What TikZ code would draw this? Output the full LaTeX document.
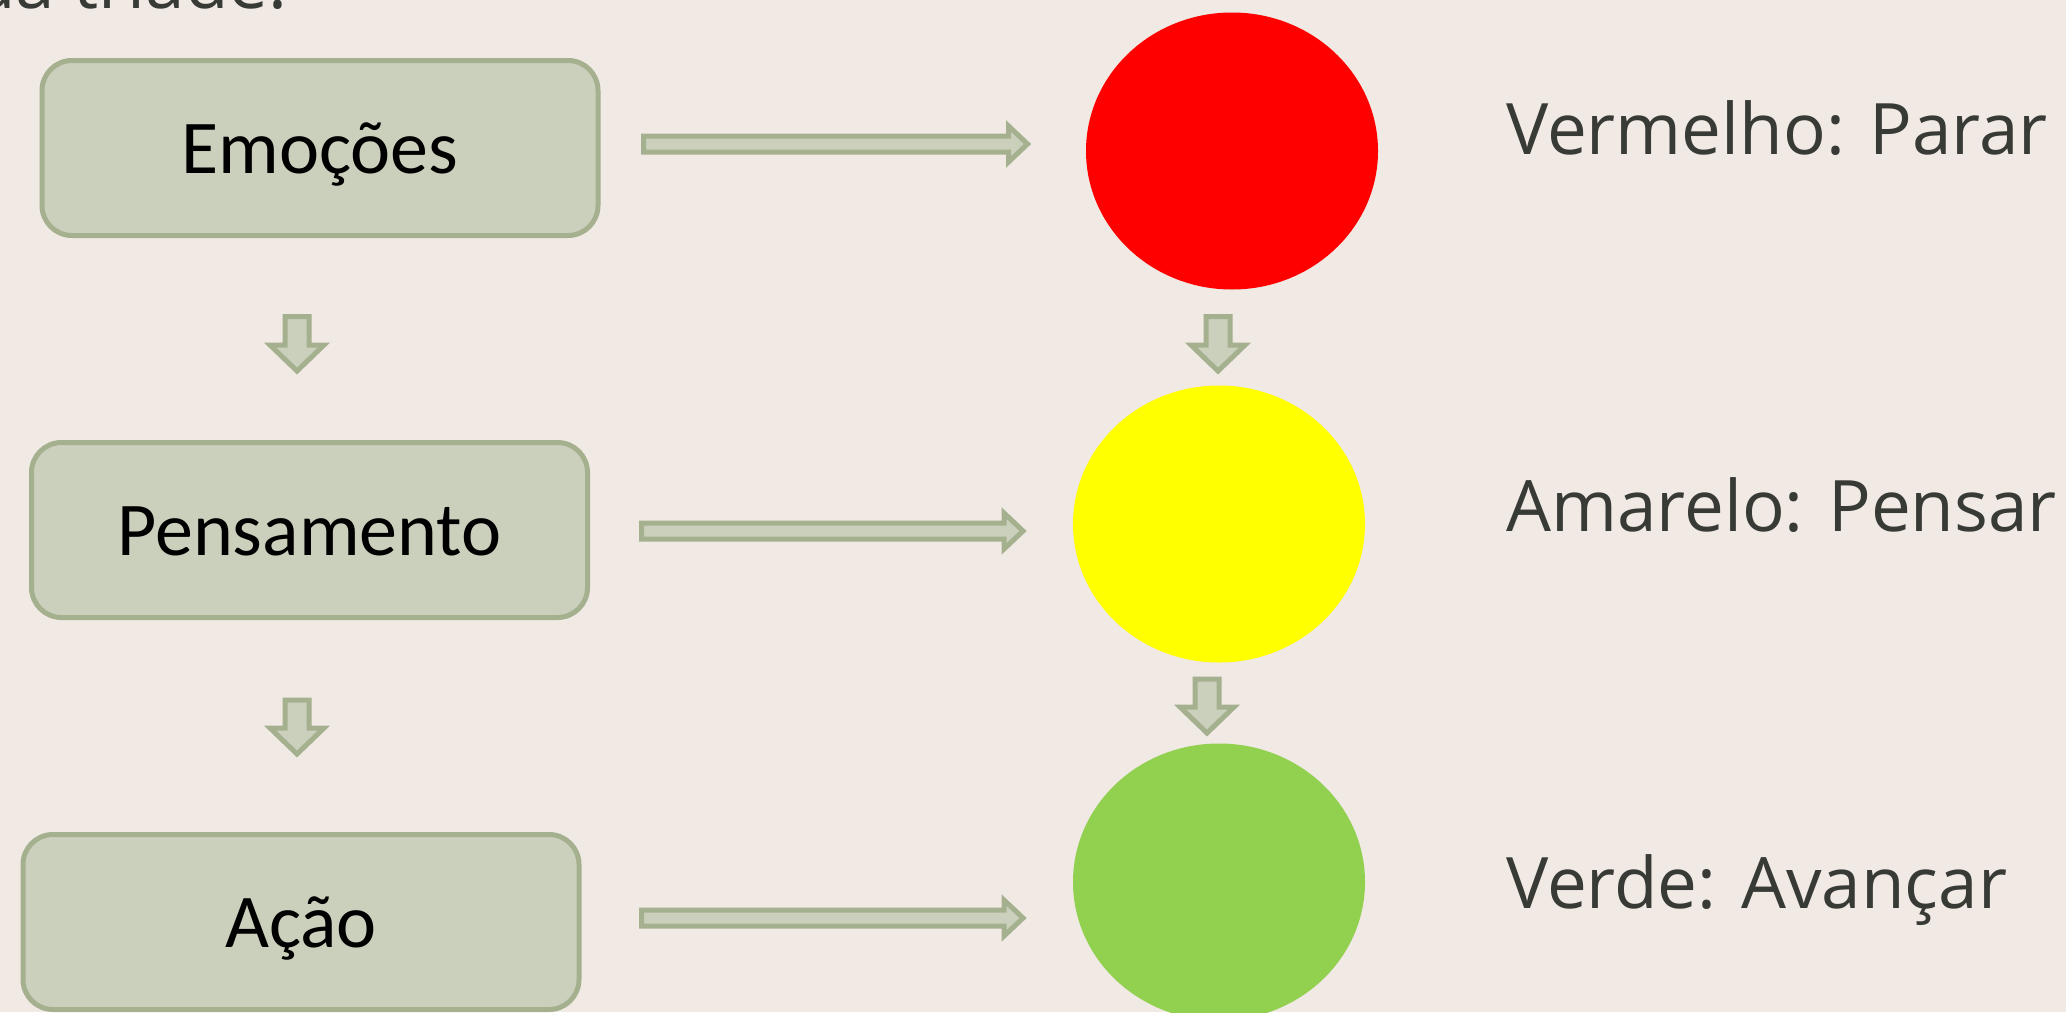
\documentclass[tikz,border=0pt]{standalone}
\usepackage{fontspec}
\setmainfont{Open Sans}
\newfontfamily\boxfont{Carlito}
\usetikzlibrary{shapes.geometric,calc}

\definecolor{bg}{RGB}{240,233,228}
\definecolor{sagefill}{RGB}{203,208,189}
\definecolor{sageline}{RGB}{165,176,142}
\definecolor{inkgray}{RGB}{56,58,53}
\definecolor{signred}{RGB}{255,0,0}
\definecolor{signyellow}{RGB}{255,255,0}
\definecolor{signgreen}{RGB}{146,208,80}

\tikzset{
  stagebox/.style={draw=sageline, fill=sagefill, line width=5pt,
    rounded corners=30pt, minimum width=556pt, minimum height=175pt,
    inner sep=0pt, text=black, text height=50pt, text depth=0pt,
    font=\boxfont\fontsize{76}{90}\selectfont},
  lamp/.style={ellipse, minimum width=292pt, minimum height=277pt, inner sep=0pt},
  signtext/.style={anchor=base west, inner sep=0pt, text=inkgray,
    font=\fontsize{71}{85}\selectfont},
  blockarrow/.style={draw=sageline, fill=sagefill, line width=5pt, miter limit=10}
}

% block arrow pointing right, from a start point to its tip (same height)
\newcommand\rightblock[2]{%
  \draw[blockarrow] let \p1=(#1), \p2=(#2) in
    (\x1,\y1+8pt) -- (\x2-19pt,\y1+8pt) -- (\x2-19pt,\y1+18pt) -- (\x2,\y1)
    -- (\x2-19pt,\y1-18pt) -- (\x2-19pt,\y1-8pt) -- (\x1,\y1-8pt) -- cycle;}
% block arrow pointing down, from its top to its tip
\newcommand\downblock[2]{%
  \draw[blockarrow] let \p1=(#1), \p2=(#2) in
    (\x1-12pt,\y1) -- (\x1+12pt,\y1) -- (\x1+12pt,\y2+26pt) -- (\x1+27pt,\y2+26pt)
    -- (\x1,\y2) -- (\x1-27pt,\y2+26pt) -- (\x1-12pt,\y2+26pt) -- cycle;}

\begin{document}
\begin{tikzpicture}[x=1pt, y=-1pt]
  \fill[bg] (0,0) rectangle (2066,1012);
  \useasboundingbox (0,0) rectangle (2066,1012);

  % heading line, only its lower edge shows
  \node[signtext] (heading) at (-28,8) {da tríade.};

  % the three stages
  \node[stagebox] (emo) at (320,148) {Emoções};
  \node[stagebox] (pens) at (309.5,530) {Pensamento};
  \node[stagebox] (acao) at (301,922) {Ação};

  % traffic light
  \node[lamp, fill=signred] (red) at (1232,151) {};
  \node[lamp, fill=signyellow] (yellow) at (1219,524) {};
  \node[lamp, fill=signgreen] (green) at (1219,882) {};

  % arrow end points
  \coordinate (h1s) at (643.5,144);  \coordinate (h1e) at (1027.5,144);
  \coordinate (h2s) at (641.5,531);  \coordinate (h2e) at (1023,531);
  \coordinate (h3s) at (641.5,918);  \coordinate (h3e) at (1023,918);
  \coordinate (l1s) at (297,316.5);  \coordinate (l1e) at (297,371);
  \coordinate (l2s) at (297,700);    \coordinate (l2e) at (297,754);
  \coordinate (r1s) at (1218,316.5); \coordinate (r1e) at (1218,371);
  \coordinate (r2s) at (1207,679);   \coordinate (r2e) at (1207,733);

  \rightblock{h1s}{h1e}
  \rightblock{h2s}{h2e}
  \rightblock{h3s}{h3e}
  \downblock{l1s}{l1e}
  \downblock{l2s}{l2e}
  \downblock{r1s}{r1e}
  \downblock{r2s}{r2e}

  % meanings
  \node[signtext] (stop) at (1506,154) {Vermelho: Parar};
  \node[signtext] (think) at (1506,531) {Amarelo: Pensar};
  \node[signtext] (go) at (1506,908) {Verde: Avançar};
\end{tikzpicture}
\end{document}
